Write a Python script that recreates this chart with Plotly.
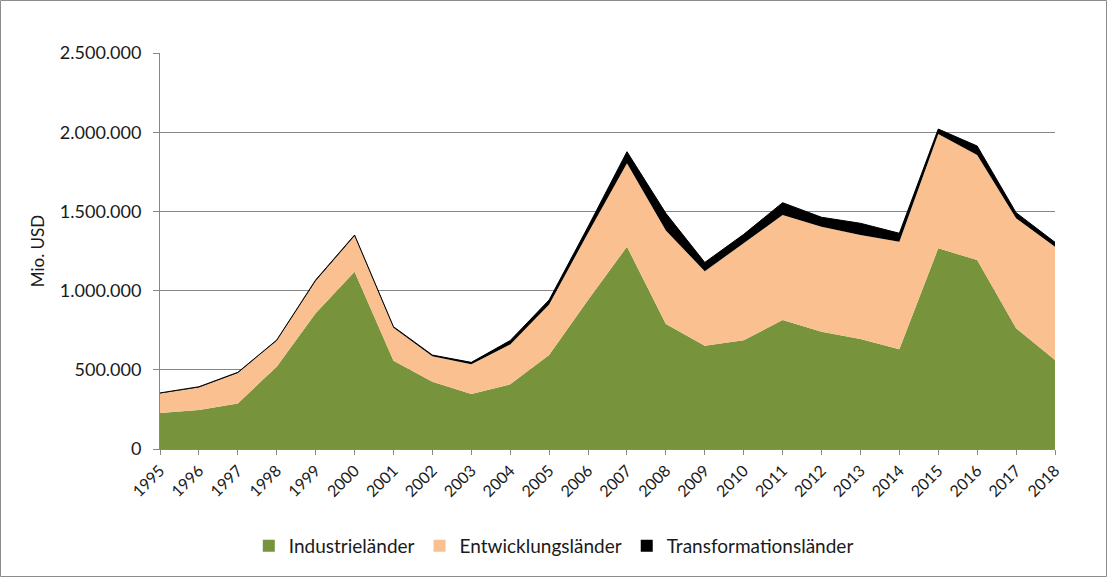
import plotly.graph_objects as go

years = list(range(1995, 2019))
industrie = [227000, 246000, 288000, 520000, 857000, 1119000, 557000, 425000, 347000, 408000,
             593000, 941000, 1277000, 789000, 652000, 686000, 814000, 741000, 694000, 629000,
             1267000, 1193000, 762000, 562000]
entwicklung = [123000, 143000, 192000, 163000, 203000, 226000, 208000, 160000, 188000, 252000,
               320000, 423000, 527000, 591000, 470000, 614000, 663000, 662000, 657000, 680000,
               722000, 663000, 694000, 715000]
transformation = [4000, 4000, 4000, 5000, 7000, 6000, 7000, 8000, 12000, 25000,
                  28000, 39000, 73000, 108000, 56000, 55000, 78000, 60000, 74000, 53000,
                  31000, 57000, 36000, 28000]

names = ["Industrieländer", "Entwicklungsländer", "Transformationsländer"]
colors = ["#77933C", "#FAC090", "#000000"]
series = [industrie, entwicklung, transformation]
widths = [0, 0, 1]

FONT = "Lato"
fig = go.Figure()
for n, c, s, w in zip(names, colors, series, widths):
    fig.add_trace(go.Scatter(
        x=years, y=s, name=n, mode="lines", stackgroup="one",
        line=dict(color=c, width=w), fillcolor=c, showlegend=False,
    ))
# legend-only entries with square symbols
for n, c in zip(names, colors):
    fig.add_trace(go.Scatter(
        x=[None], y=[None], name=n, mode="markers",
        marker=dict(symbol="square", size=12, color=c), showlegend=True,
    ))

fig.update_layout(
    width=1107, height=577,
    margin=dict(l=160, r=52, t=53, b=128),
    paper_bgcolor="white", plot_bgcolor="white",
    separators=",.",
    font=dict(family=FONT, size=18, color="#1a1a1a"),
    showlegend=True,
    legend=dict(orientation="h", x=0.44, xanchor="center", y=-0.245, yanchor="middle",
                font=dict(size=19), itemwidth=30, traceorder="normal"),
    shapes=[dict(type="rect", xref="paper", yref="paper",
                 x0=-159.5/895, x1=(1106.5-160)/895,
                 y0=-(577-449-0.5)/396, y1=(449-0.5)/396,
                 line=dict(color="#8c8c8c", width=1), fillcolor="rgba(0,0,0,0)", layer="below")],
)
fig.update_xaxes(
    range=[1995, 2018], tickmode="array", tickvals=years, ticktext=[str(y) for y in years],
    tickangle=-45, showgrid=False, showline=True, linecolor="#878787", linewidth=1,
    ticks="outside", ticklen=5, tickcolor="#878787", tickfont=dict(size=16), zeroline=False,
)
fig.update_yaxes(
    range=[0, 2500000], tickvals=[0, 500000, 1000000, 1500000, 2000000, 2500000],
    tickformat=",d", showgrid=True, gridcolor="#878787", gridwidth=1,
    showline=True, linecolor="#878787", linewidth=1,
    ticks="outside", ticklen=6, tickcolor="#878787", tickfont=dict(size=18),
    ticklabelstandoff=8, zeroline=False,
    title=dict(text="Mio. USD", font=dict(size=17), standoff=10),
)

fig.write_html("out.html", config={"displayModeBar": False},
               post_script="document.body.style.margin='0';window.dispatchEvent(new Event('resize'));")
